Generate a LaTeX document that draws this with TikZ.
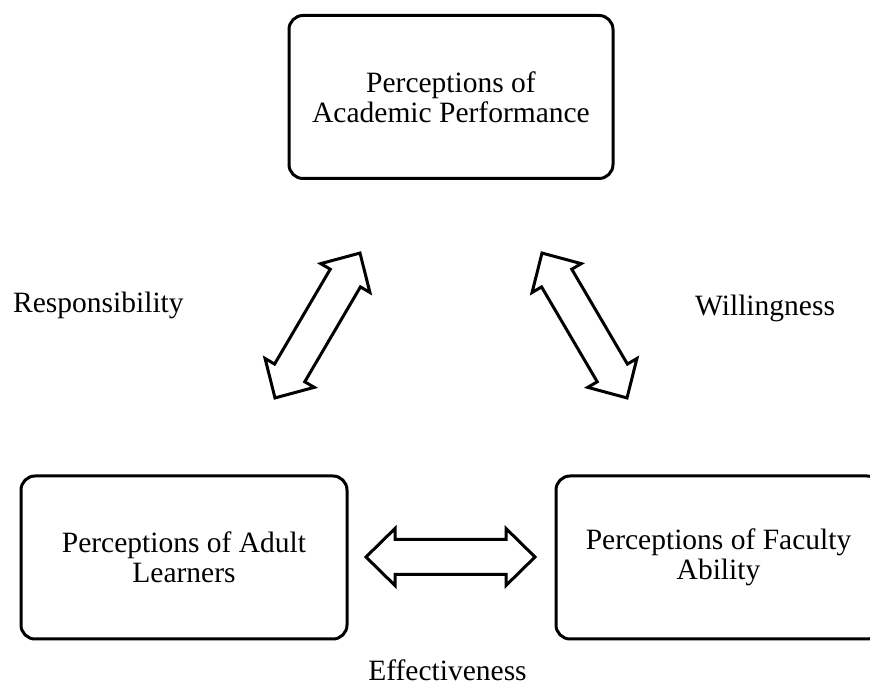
\documentclass[tikz,border=0pt]{standalone}
\usepackage{fontspec}
\setmainfont{Liberation Serif}
\begin{document}
\begin{tikzpicture}[x=1pt,y=1pt,
  box/.style={draw=black, line width=3pt, rounded corners=14pt, align=center,
    inner sep=0pt, font=\fontsize{29.5}{30}\selectfont},
  lbl/.style={inner sep=0pt, font=\fontsize{29.5}{30}\selectfont},
  blockarrow/.style={draw=black, fill=white, line width=3pt, line join=miter}]
\useasboundingbox (0,0) rectangle (870,687);
\begin{scope}
\clip (0,0) rectangle (870,687);
\node[box, minimum width=324pt, minimum height=163pt] (acad) at (451,590)
  {Perceptions of\\Academic Performance};
\node[box, minimum width=326pt, minimum height=163pt] (adult) at (184,129.5)
  {Perceptions of Adult\\Learners};
\node[box, minimum width=325pt, minimum height=163pt] (fac) at (718.5,129.5)
  {Perceptions of Faculty\\Ability};
\end{scope}

\node[lbl, anchor=base west] (resp) at (13,374) {Responsibility};
\node[lbl, anchor=base west] (will) at (695,371) {Willingness};
\node[lbl, anchor=base] (eff) at (447.5,6) {Effectiveness};

\coordinate (a1) at (317.5,361.5);
\coordinate (a2) at (584.5,361.5);
\coordinate (a3) at (450.5,130);

\begin{scope}[shift={(a1)}, rotate=59.6]
\draw[blockarrow] (-84,0) -- (-55,28.5) -- (-55,17.5) -- (55,17.5) -- (55,28.5)
  -- (84,0) -- (55,-28.5) -- (55,-17.5) -- (-55,-17.5) -- (-55,-28.5) -- cycle;
\end{scope}
\begin{scope}[shift={(a2)}, rotate=120.4]
\draw[blockarrow] (-84,0) -- (-55,28.5) -- (-55,17.5) -- (55,17.5) -- (55,28.5)
  -- (84,0) -- (55,-28.5) -- (55,-17.5) -- (-55,-17.5) -- (-55,-28.5) -- cycle;
\end{scope}
\begin{scope}[shift={(a3)}]
\draw[blockarrow] (-84.5,0) -- (-55.5,28.5) -- (-55.5,17.5) -- (55.5,17.5) -- (55.5,28.5)
  -- (84.5,0) -- (55.5,-28.5) -- (55.5,-17.5) -- (-55.5,-17.5) -- (-55.5,-28.5) -- cycle;
\end{scope}
\end{tikzpicture}
\end{document}
